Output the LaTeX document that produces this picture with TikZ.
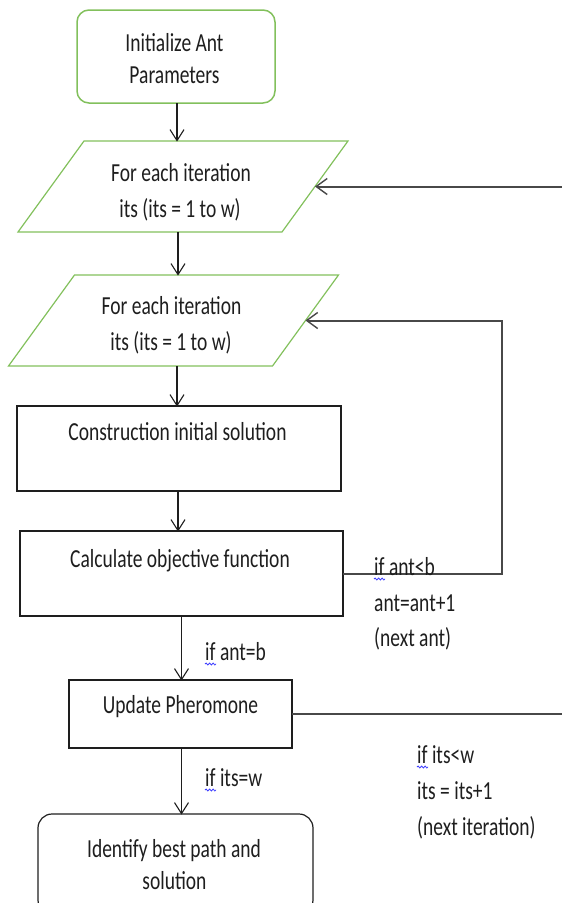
\documentclass[tikz,border=0pt]{standalone}
\usepackage{fontspec}
\setmainfont{Carlito}[FakeStretch=0.75]
\usetikzlibrary{arrows.meta,decorations.pathmorphing}
\definecolor{flowgreen}{RGB}{130,192,92}
\definecolor{ink}{RGB}{30,30,30}
\definecolor{wire}{RGB}{72,72,72}
\begin{document}
\begin{tikzpicture}[x=1pt,y=-1pt,
  txt/.style={anchor=base, inner sep=0pt, text=ink, font=\fontsize{26}{31}\selectfont},
  ltxt/.style={txt, anchor=base west},
  startbox/.style={draw=flowgreen, line width=1.5pt, rounded corners=12pt, inner sep=0pt, outer sep=0pt},
  iobody/.style={inner sep=0pt, outer sep=0pt, minimum width=264pt, minimum height=91pt},
  ioline/.style={draw=flowgreen, line width=1.2pt},
  procbox/.style={draw=ink, line width=1.2pt, inner sep=0pt, outer sep=0pt},
  endbox/.style={procbox, rounded corners=14pt},
  arr/.style={draw=ink, line width=1.1pt, -{Straight Barb[length=11pt,width=14pt]}},
  looparr/.style={draw=wire, line width=2pt, -{Straight Barb[length=11pt,width=16pt,line width=1.4pt]}},
  squiggle/.style={draw=blue!75, line width=0.8pt, decorate, decoration={snake, amplitude=1pt, segment length=3.5pt}}
]
\useasboundingbox (0,0) rectangle (562,903);

% ---- shapes ----
\node[startbox, minimum width=198pt, minimum height=93pt] (init) at (176,56.5) {};
\node[iobody] (p1) at (183,186.5) {};
\node[iobody] (p2) at (173.5,320.5) {};
\node[procbox, minimum width=324pt, minimum height=85pt] (con) at (179,448.5) {};
\node[procbox, minimum width=323pt, minimum height=85pt] (calc) at (181.5,573.5) {};
\node[procbox, minimum width=223pt, minimum height=68pt] (upd) at (180.5,714) {};
\node[endbox, minimum width=275pt, minimum height=100pt] (idf) at (175.5,864) {};

% parallelograms around the two loop heads
\foreach \p in {p1,p2}{
  \draw[ioline] ([xshift=-33pt]\p.south west) -- ([xshift=-33pt]\p.south east)
    -- ([xshift=33pt]\p.north east) -- ([xshift=33pt]\p.north west) -- cycle;
}

% ---- texts ----
\node[txt] (tinitA) at (174.5,51.7) {Initialize Ant};
\node[txt] (tinitB) at (174.5,83.3) {Parameters};
\node[txt] (tp1A) at (181,181.5) {For each iteration};
\node[txt] (tp1B) at (180,217.5) {its (its = 1 to w)};
\node[txt] (tp2A) at (171.5,314) {For each iteration};
\node[txt] (tp2B) at (171,350) {its (its = 1 to w)};
\node[txt] (tcon) at (177.5,440) {Construction initial solution};
\node[txt] (tcalc) at (180,567) {Calculate objective function};
\node[txt] (tupd) at (180.5,713) {Update Pheromone};
\node[txt] (tidfA) at (174,857) {Identify best path and};
\node[txt] (tidfB) at (174.5,889) {solution};

% ---- straight flow ----
\coordinate (colA) at (177,0);
\coordinate (colB) at (178,0);
\coordinate (colC) at (181.5,0);
\draw[arr] (init.south -| colA) -- ([yshift=-0.6pt]p1.north -| colA);
\draw[arr] (p1.south -| colB) -- ([yshift=-0.6pt]p2.north -| colB);
\draw[arr] (p2.south -| colA) -- ([yshift=-0.6pt]con.north -| colA);
\draw[arr] (con.south -| colB) -- ([yshift=-0.6pt]calc.north -| colB);
\draw[arr] (calc.south -| colC) -- ([yshift=-0.6pt]upd.north -| colC);
\draw[arr] (upd.south -| colC) -- ([yshift=-0.6pt]idf.north -| colC);

% ---- loops ----
\coordinate (antx) at (502,0);
\coordinate (itsx) at (572,0);
\draw[looparr] (calc.east) -- (calc.east -| antx) |- (p2.east);
\draw[looparr] (upd.east) -- (upd.east -| itsx) |- (p1.east);

% ---- conditions ----
\node[ltxt] (cab) at (205,660) {if ant=b};
\node[ltxt] (ciw) at (205,786) {if its=w};
\node[ltxt] (calA) at (374,575) {if ant<b};
\node[ltxt] (calB) at (374,611) {ant=ant+1};
\node[ltxt] (calC) at (374,646) {(next ant)};
\node[ltxt] (cilA) at (417,763) {if its<w};
\node[ltxt] (cilB) at (417,799) {its = its+1};
\node[ltxt] (cilC) at (417,835) {(next iteration)};

% spell-check marks under "if"
\foreach \c in {cab,ciw,calA,cilA}{
  \draw[squiggle] ([yshift=-4pt]\c.base west) -- ++(11,0);
}
\end{tikzpicture}
\end{document}
